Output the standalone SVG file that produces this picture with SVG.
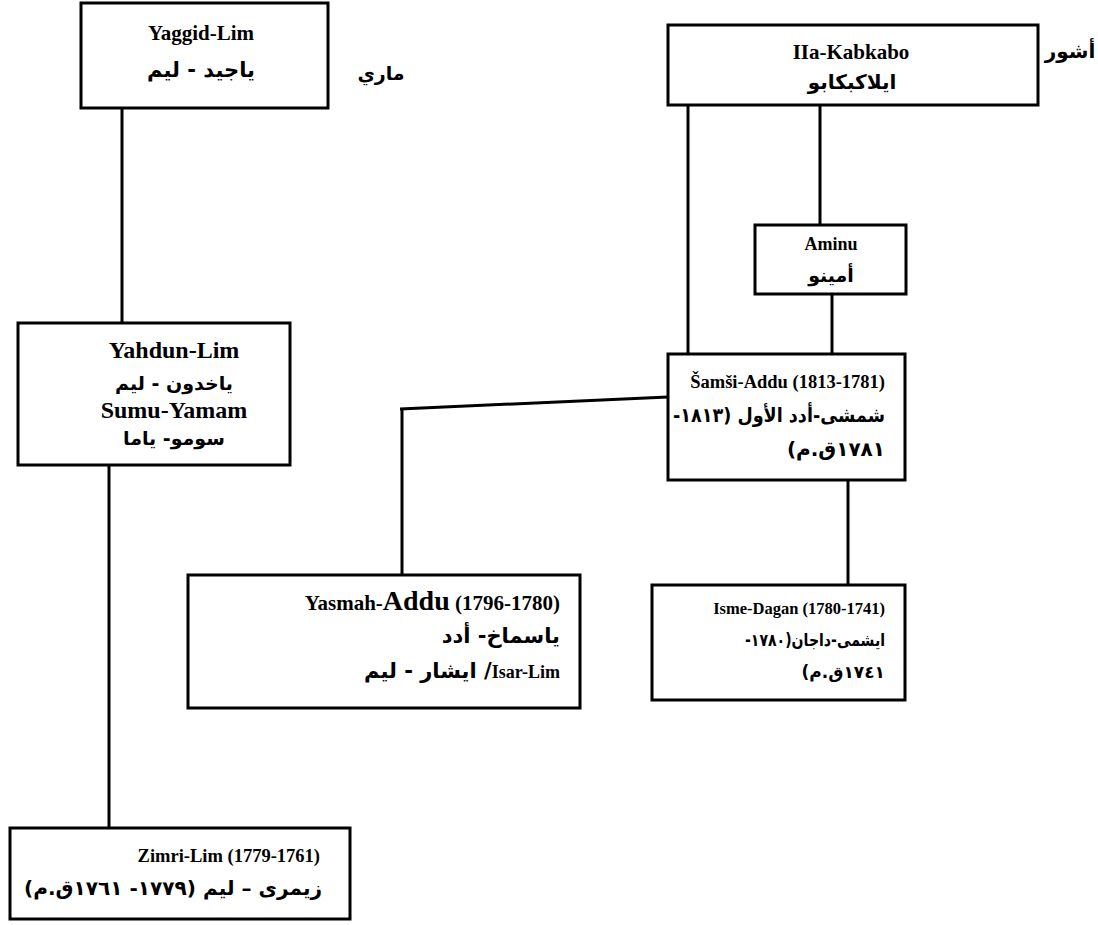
<svg xmlns="http://www.w3.org/2000/svg" width="1098" height="925" viewBox="0 0 1098 925">
<style>
.box{fill:#fff;stroke:#000;stroke-width:3}
.ln{stroke:#000;stroke-width:3;fill:none}
.la{font-family:"Liberation Serif",serif;font-weight:bold;font-size:18px;fill:#000}
.ar{font-family:"DejaVu Sans",sans-serif;font-weight:bold;font-size:19px;fill:#000}
.c{text-anchor:middle}
.e{text-anchor:end}
.rtl{direction:rtl;unicode-bidi:embed}
</style>
<rect width="1098" height="925" fill="#fff"/>
<g id="connectors">
<line class="ln" x1="122" y1="108" x2="122" y2="323"/>
<line class="ln" x1="109" y1="465" x2="109" y2="828"/>
<line class="ln" x1="688" y1="105" x2="688" y2="354"/>
<line class="ln" x1="820" y1="105" x2="820" y2="225"/>
<line class="ln" x1="832" y1="294" x2="832" y2="354"/>
<line class="ln" x1="668" y1="397" x2="400" y2="409"/>
<line class="ln" x1="402" y1="408" x2="402" y2="575"/>
<line class="ln" x1="848" y1="480" x2="848" y2="585"/>
</g>
<g id="yaggid">
<rect class="box" x="81" y="3" width="247" height="105"/>
<text class="la c" x="201" y="40" style="font-size:21px">Yaggid-Lim</text>
<text class="ar c rtl" x="201" y="77" style="font-size:21px">ياجيد - ليم</text>
</g>
<g id="mari">
<text class="ar c rtl" x="381" y="80">ماري</text>
</g>
<g id="ila">
<rect class="box" x="668" y="25" width="370" height="80"/>
<text class="la c" x="851" y="59" style="font-size:21px">IIa-Kabkabo</text>
<text class="ar c rtl" x="852" y="89" style="font-size:20px">ايلاكبكابو</text>
</g>
<g id="ashur">
<text class="ar c rtl" x="1070" y="58" style="font-size:20px">أشور</text>
</g>
<g id="aminu">
<rect class="box" x="755" y="225" width="151" height="69"/>
<text class="la c" x="831" y="250">Aminu</text>
<text class="ar c rtl" x="831" y="282">أمينو</text>
</g>
<g id="yahdun">
<rect class="box" x="18" y="323" width="272" height="142"/>
<text class="la c" x="174" y="358" style="font-size:24px">Yahdun-Lim</text>
<text class="ar c rtl" x="174" y="390">ياخدون  - ليم</text>
<text class="la c" x="174" y="418" style="font-size:24px">Sumu-Yamam</text>
<text class="ar c rtl" x="174" y="445">سومو- ياما</text>
</g>
<g id="samsi">
<rect class="box" x="668" y="354" width="237" height="126"/>
<text class="la e" x="885" y="388" style="font-size:18.5px">Šamši-Addu (1813-1781)</text>
<text class="ar rtl" x="885" y="422" style="font-size:20px" textLength="212" lengthAdjust="spacingAndGlyphs">شمشى-أدد الأول (١٨١٣-</text>
<text class="ar rtl" x="885" y="456" style="font-size:20px">١٧٨١ق.م)</text>
</g>
<g id="yasmah">
<rect class="box" x="188" y="575" width="392" height="133"/>
<text class="la e" x="560" y="610" style="font-size:21px">Yasmah-<tspan style="font-size:28px">Addu</tspan> (1796-1780)</text>
<text class="ar rtl" x="560" y="643" style="font-size:21px">ياسماخ- أدد</text>
<text class="ar rtl" x="560" y="678" style="font-size:21px"><tspan class="la" style="font-size:18px">Isar-Lim</tspan>/ ايشار - ليم</text>
</g>
<g id="isme">
<rect class="box" x="652" y="585" width="253" height="115"/>
<text class="la e" x="885" y="614" style="font-size:16.5px">Isme-Dagan (1780-1741)</text>
<text class="ar rtl" x="885" y="646" style="font-size:17px" textLength="140" lengthAdjust="spacingAndGlyphs">ايشمى-داجان(١٧٨٠-</text>
<text class="ar rtl" x="885" y="678" style="font-size:17px">١٧٤١ق.م)</text>
</g>
<g id="zimri">
<rect class="box" x="10" y="828" width="340" height="91"/>
<text class="la e" x="320" y="862" style="font-size:18.5px">Zimri-Lim (1779-1761)</text>
<text class="ar rtl" x="322" y="895" style="font-size:20px" textLength="298" lengthAdjust="spacingAndGlyphs">زيمرى – ليم (١٧٧٩- ١٧٦١ق.م)</text>
</g>
</svg>
